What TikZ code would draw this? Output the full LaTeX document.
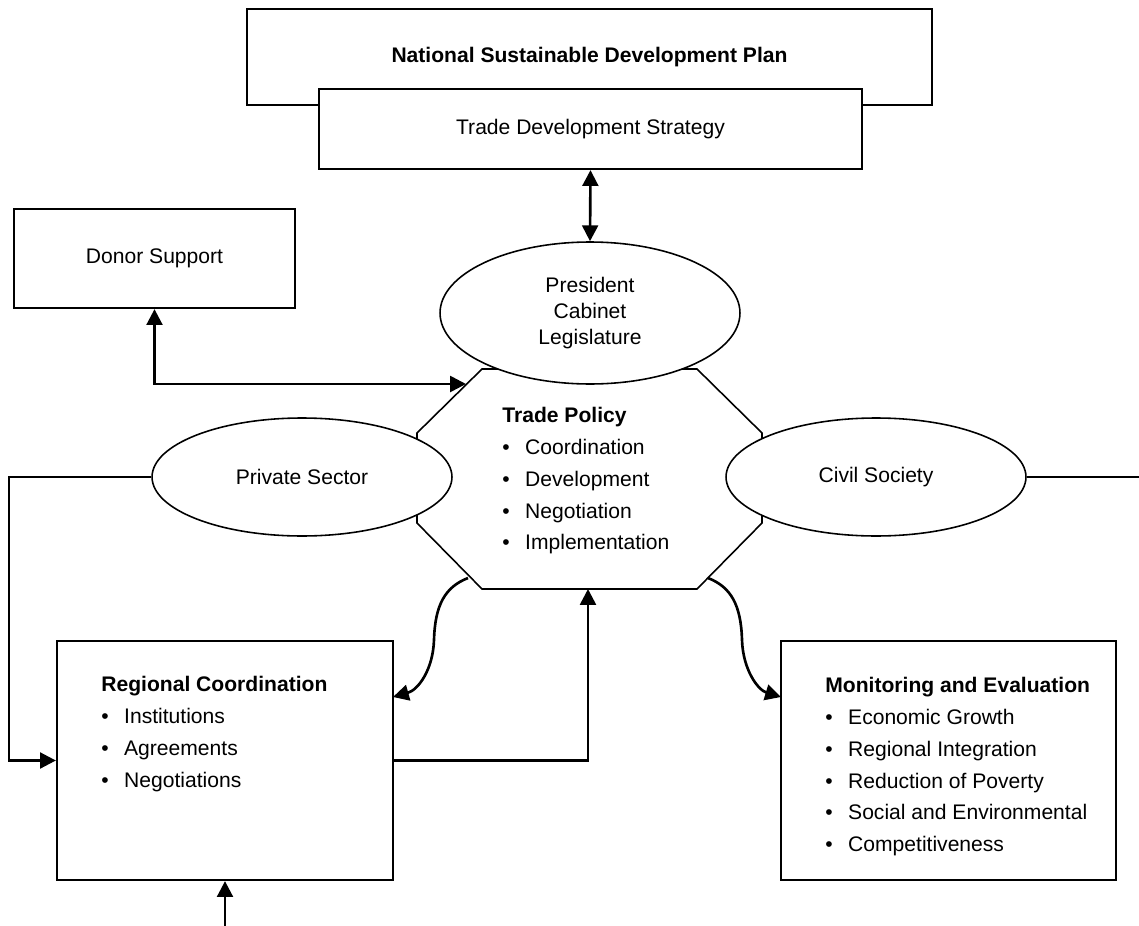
\documentclass[tikz,border=0pt]{standalone}
\usepackage{fontspec}
\setmainfont{Liberation Sans}
\usetikzlibrary{shapes.geometric,arrows.meta}
\newcommand{\bitem}[1]{\makebox[13pt][l]{\textbullet}#1}
\tikzset{
  box/.style={draw, line width=1.3pt, inner sep=0pt},
  oval/.style={ellipse, draw, fill=white, line width=0.9pt, inner sep=0pt, minimum width=6cm},
  blist/.style={align=left, anchor=north west, inner sep=0pt, font=\fontsize{12}{18.1}\selectfont},
  link/.style={line width=1.5pt, -{Triangle[length=9pt,width=9pt]}},
  dlink/.style={line width=1.5pt, {Triangle[length=9pt,width=9pt]}-{Triangle[length=9pt,width=9pt]}},
  plain/.style={line width=1.5pt}
}
\begin{document}
\begin{tikzpicture}[x=0.02cm,y=-0.02cm,font=\fontsize{12}{14.7}\selectfont]
\useasboundingbox (0,0) rectangle (1139,926);
% plan and strategy at the top
\node[box, minimum width=13.7cm, minimum height=1.92cm] (nsdp) at (589.5,57) {\textbf{National Sustainable Development Plan}};
\node[box, fill=white, minimum width=10.86cm, minimum height=1.6cm] (tds) at (590.5,129) {Trade Development Strategy};
\node[box, minimum width=5.62cm, minimum height=1.98cm] (donor) at (154.5,258.5) {Donor Support};
% trade policy octagon
\coordinate (tp1) at (482,369);
\coordinate (tp2) at (697,369);
\coordinate (tp3) at (762,433);
\coordinate (tp4) at (762,523);
\coordinate (tp5) at (697,589);
\coordinate (tp6) at (482,589);
\coordinate (tp7) at (417,523);
\coordinate (tp8) at (417,433);
\draw[line width=0.9pt] (tp1)--(tp2)--(tp3)--(tp4)--(tp5)--(tp6)--(tp7)--(tp8)--cycle;
\node[blist] (tp) at (502,407) {\textbf{Trade Policy}\\\bitem{Coordination}\\\bitem{Development}\\\bitem{Negotiation}\\\bitem{Implementation}};
% actors
\node[oval, minimum height=2.84cm, align=center] (pcl) at (590,313) {President\\Cabinet\\Legislature};
\node[oval, minimum height=2.36cm] (ps) at (302,477) {Private Sector};
\node[oval, minimum height=2.36cm] (cs) at (876,477) {Civil Society};
% lower boxes
\node[box, minimum width=6.72cm, minimum height=4.78cm] (reg) at (225,760.5) {};
\node[blist] (regtxt) at (101,676) {\textbf{Regional Coordination}\\\bitem{Institutions}\\\bitem{Agreements}\\\bitem{Negotiations}};
\node[box, minimum width=6.7cm, minimum height=4.78cm] (mon) at (948.5,760.5) {};
\node[blist] (montxt) at (825,677) {\textbf{Monitoring and Evaluation}\\\bitem{Economic Growth}\\\bitem{Regional Integration}\\\bitem{Reduction of Poverty}\\\bitem{Social and Environmental}\\\bitem{Competitiveness}};
% connectors
\coordinate (dtip) at (466,384);
\coordinate (psbend) at (9,477);
\coordinate (tpup) at (588,589);
\coordinate (regin) at (225,926);
\coordinate (csend) at (1139,477);
\coordinate (lstart) at (468,578);
\coordinate (lmid) at (434,640);
\coordinate (regtip) at (393,697);
\coordinate (rstart) at (708,578);
\coordinate (rmid) at (742,640);
\coordinate (montip) at (781,697);
\draw[dlink] (tds.south) -- (pcl.north);
\draw[dlink] (donor.south) |- (dtip);
\draw[link] (ps.west) -- (psbend) |- (reg.west);
\draw[link] (reg.east) -| (tpup);
\draw[link] (regin) -- (reg.south);
\draw[plain] (cs.east) -- (csend);
\draw[link] (lstart) .. controls (445,587) and (435,605) .. (lmid) .. controls (433,670) and (418,690) .. (regtip);
\draw[link] (rstart) .. controls (731,587) and (741,605) .. (rmid) .. controls (743,670) and (758,690) .. (montip);
\end{tikzpicture}
\end{document}
